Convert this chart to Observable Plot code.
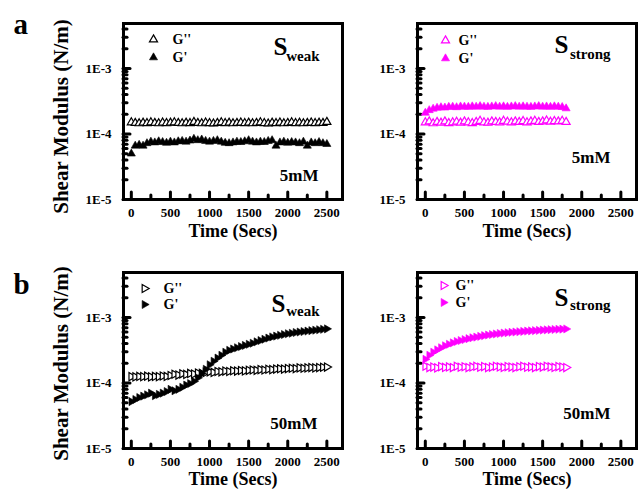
<!DOCTYPE html>
<html><head><meta charset="utf-8">
<script src="https://cdn.jsdelivr.net/npm/d3@7"></script>
<script src="https://cdn.jsdelivr.net/npm/@observablehq/plot@0.6"></script>
<style>
body{margin:0;background:#fff;overflow:hidden}
#fig{position:relative;width:639px;height:491px;overflow:hidden}
#fig>div{position:absolute}
svg{overflow:visible}
</style></head><body><div id="fig"></div>
<script>
// values of shear modulus are given in units of 1e-4 N/m
const unit = 1e-4;
const timeWeak = [0,50,100,150,200,250,300,350,400,450,500,550,600,650,700,750,800,850,900,950,1000,1050,1100,1150,1200,1250,1300,1350,1400,1450,1500,1550,1600,1650,1700,1750,1800,1850,1900,1950,2000,2050,2100,2150,2200,2250,2300,2350,2400,2450,2500];
const timeStrong = [0,50,100,150,200,250,300,350,400,450,500,550,600,650,700,750,800,850,900,950,1000,1050,1100,1150,1200,1250,1300,1350,1400,1450,1500,1550,1600,1650,1700,1750,1800];

// panel a, S_weak, 5mM
const aWeakG2 = [1.50,1.47,1.45,1.48,1.46,1.50,1.47,1.45,1.49,1.46,
  1.48,1.50,1.47,1.45,1.48,1.46,1.52,1.47,1.45,1.49,
  1.46,1.44,1.47,1.50,1.46,1.48,1.45,1.47,1.49,1.46,
  1.48,1.45,1.47,1.50,1.46,1.44,1.48,1.46,1.49,1.45,
  1.47,1.50,1.46,1.48,1.45,1.47,1.49,1.46,1.48,1.47,1.52];
const aWeakG1 = [0.50,0.66,0.68,0.66,0.72,0.76,0.74,0.77,0.75,0.73,
  0.76,0.74,0.77,0.78,0.76,0.79,0.84,0.80,0.82,0.78,
  0.76,0.78,0.80,0.76,0.73,0.72,0.74,0.76,0.75,0.77,
  0.80,0.76,0.74,0.76,0.75,0.78,0.80,0.66,0.74,0.76,
  0.73,0.75,0.74,0.72,0.76,0.66,0.74,0.72,0.75,0.72,0.70];
// panel a, S_strong, 5mM
const aStrongG2 = [1.50,1.55,1.45,1.52,1.48,1.55,1.46,1.50,1.53,1.48,
  1.55,1.50,1.46,1.52,1.58,1.50,1.48,1.55,1.52,1.50,
  1.58,1.53,1.50,1.55,1.52,1.57,1.50,1.55,1.58,1.52,
  1.55,1.60,1.53,1.57,1.55,1.58,1.52];
const aStrongG1 = [2.10,2.30,2.42,2.50,2.55,2.52,2.58,2.60,2.55,2.62,
  2.60,2.58,2.63,2.60,2.65,2.60,2.58,2.62,2.65,2.60,
  2.63,2.58,2.62,2.65,2.60,2.63,2.60,2.58,2.62,2.65,
  2.60,2.62,2.58,2.63,2.60,2.57,2.45];
// panel b, S_weak, 50mM
const bWeakG2 = [1.25,1.24,1.26,1.25,1.27,1.24,1.26,1.25,1.28,1.26,
  1.30,1.36,1.32,1.38,1.35,1.40,1.37,1.42,1.40,1.45,
  1.48,1.45,1.50,1.48,1.52,1.50,1.54,1.52,1.55,1.53,
  1.56,1.58,1.56,1.60,1.58,1.62,1.60,1.63,1.65,1.63,
  1.66,1.68,1.66,1.70,1.68,1.70,1.72,1.70,1.72,1.74,1.75];
const bWeakG1 = [0.52,0.56,0.60,0.63,0.66,0.70,0.64,0.67,0.70,0.74,
  0.80,0.76,0.80,0.86,0.93,0.98,1.06,1.20,1.40,1.62,
  1.90,2.15,2.40,2.65,2.95,3.15,3.30,3.45,3.60,3.75,
  3.90,4.05,4.25,4.45,4.65,4.85,5.05,5.20,5.35,5.50,
  5.65,5.75,5.90,6.00,6.10,6.20,6.30,6.40,6.50,6.60,6.70];
// panel b, S_strong, 50mM
const bStrongG2 = [1.80,1.72,1.75,1.70,1.78,1.73,1.76,1.72,1.80,1.74,
  1.77,1.72,1.76,1.80,1.74,1.78,1.72,1.75,1.80,1.76,
  1.73,1.78,1.75,1.72,1.77,1.80,1.74,1.76,1.72,1.78,
  1.75,1.80,1.76,1.73,1.78,1.75,1.72];
const bStrongG1 = [2.30,2.65,2.95,3.20,3.45,3.70,3.90,4.10,4.30,4.45,
  4.60,4.75,4.90,5.02,5.15,5.28,5.40,5.50,5.60,5.70,
  5.78,5.86,5.94,6.00,6.07,6.13,6.20,6.25,6.30,6.36,
  6.42,6.47,6.52,6.56,6.60,6.64,6.68];

const yTicksMajor = [1e-5, 1e-4, 1e-3];
const yTickLabels = ["1E-5", "1E-4", "1E-3"];
const yTicksMinor = [2e-5,3e-5,4e-5,5e-5,6e-5,7e-5,8e-5,9e-5,2e-4,3e-4,4e-4,5e-4,6e-4,7e-4,8e-4,9e-4,2e-3,3e-3,4e-3];
const xTicksMajor = [0, 500, 1000, 1500, 2000, 2500];
const xTicksMinor = [250, 750, 1250, 1750, 2250];
const legendLabels = ["G''", "G'"];
const yTitle = "Shear Modulus (N/m)";
const xTitle = "Time (Secs)";

const FONT = "'Liberation Serif', 'Times New Roman', serif";

function panel(cfg) {
  const rot = cfg.shape === "right" ? 90 : 0;
  const rowsG2 = cfg.time.map((t, i) => ({t, v: cfg.G2[i] * unit}));
  const rowsG1 = cfg.time.map((t, i) => ({t, v: cfg.G1[i] * unit}));
  const L = cfg.lay;
  const T = {textAnchor: "end", lineAnchor: "middle"};
  const R = 3;
  const marks = [
    Plot.axisY(yTicksMinor, {tickSize: -4, strokeWidth: 3, strokeLinecap: "round", fill: "none", label: null}),
    Plot.axisY(yTicksMajor, {tickSize: -7, strokeWidth: 3, strokeLinecap: "round", fill: "none", label: null}),
    Plot.axisY(yTicksMajor, {tickSize: 0, tickPadding: 12, fontSize: 13, tickFormat: d => yTickLabels[yTicksMajor.indexOf(d)], label: null}),
    Plot.axisX(xTicksMinor, {tickSize: -4, strokeWidth: 3, strokeLinecap: "round", fill: "none", label: null}),
    Plot.axisX(xTicksMajor, {tickSize: -7, strokeWidth: 3, strokeLinecap: "round", fill: "none", label: null}),
    Plot.axisX(xTicksMajor, {tickSize: 0, tickPadding: 8, fontSize: 13, tickFormat: d => String(d), label: null}),
    Plot.dot(rowsG2, {x: "t", y: "v", symbol: "triangle", r: R, fill: "white", stroke: cfg.color, strokeWidth: 1.2, rotate: rot}),
    Plot.dot(rowsG1, {x: "t", y: "v", symbol: "triangle", r: R, fill: cfg.color, stroke: cfg.color, strokeWidth: 0.6, rotate: rot}),
    Plot.frame({strokeWidth: 3}),
    // legend
    Plot.dot([legendLabels[0]], {frameAnchor: "top-left", dx: L.lmx, dy: L.ly1, symbol: "triangle", r: R, fill: "white", stroke: cfg.color, strokeWidth: 1.2, rotate: rot}),
    Plot.dot([legendLabels[1]], {frameAnchor: "top-left", dx: L.lmx, dy: L.ly2, symbol: "triangle", r: R, fill: cfg.color, stroke: cfg.color, strokeWidth: 0.6, rotate: rot}),
    Plot.text([legendLabels[0]], {frameAnchor: "top-left", dx: L.ltx, dy: L.ly1, textAnchor: "start", lineAnchor: "middle", fontSize: 14}),
    Plot.text([legendLabels[1]], {frameAnchor: "top-left", dx: L.ltx, dy: L.ly2, textAnchor: "start", lineAnchor: "middle", fontSize: 14}),
    // sample title S_sub
    Plot.text(["S"], {frameAnchor: "top-right", dx: L.sx, dy: L.sy, ...T, fontSize: 25}),
    Plot.text([cfg.sub], {frameAnchor: "top-right", dx: L.subx, dy: L.suby, ...T, fontSize: 15}),
    // concentration
    Plot.text([cfg.conc], {frameAnchor: "top-right", dx: L.cx, dy: L.cy, ...T, fontSize: 17}),
    // x title
    Plot.text([xTitle], {frameAnchor: "bottom", dy: L.xty, textAnchor: "middle", lineAnchor: "middle", fontSize: 18})
  ];
  if (cfg.letter) {
    marks.push(Plot.text([yTitle], {frameAnchor: "left", dx: -62, dy: L.yty, rotate: -90, textAnchor: "middle", lineAnchor: "middle", fontSize: 21}));
    marks.push(Plot.text([cfg.letter], {frameAnchor: "top-left", dx: -110, dy: L.lety, textAnchor: "start", lineAnchor: "middle", fontSize: 29}));
  }
  const svg = Plot.plot({
    width: 345, height: 245,
    marginLeft: 123, marginRight: 3, marginTop: 23, marginBottom: 46,
    style: {fontFamily: FONT, fontWeight: "bold", background: "transparent", overflow: "visible", color: "black"},
    x: {domain: [-100, 2700]},
    y: {type: "log", domain: [1e-5, 4.86e-3]},
    marks
  });
  const div = document.createElement("div");
  div.style.left = cfg.left + "px";
  div.style.top = cfg.top + "px";
  div.appendChild(svg);
  document.getElementById("fig").appendChild(div);
}

panel({G2: aWeakG2, G1: aWeakG1, time: timeWeak, color: "black", shape: "up", letter: "a", sub: "weak", conc: "5mM", left: 0, top: 0,
  lay: {lmx: 30, ltx: 49, ly1: 16, ly2: 34, sx: -55, sy: 23, subx: -23, suby: 33, cx: -24, cy: 152, xty: 32, yty: 5, lety: 1}});
panel({G2: aStrongG2, G1: aStrongG1, time: timeStrong, color: "#ff00ff", shape: "up", letter: null, sub: "strong", conc: "5mM", left: 294, top: 0,
  lay: {lmx: 28, ltx: 41, ly1: 17, ly2: 35, sx: -68, sy: 21, subx: -26, suby: 31, cx: -26, cy: 134, xty: 32}});
panel({G2: bWeakG2, G1: bWeakG1, time: timeWeak, color: "black", shape: "right", letter: "b", sub: "weak", conc: "50mM", left: 0, top: 249,
  lay: {lmx: 21, ltx: 40, ly1: 16, ly2: 32, sx: -57, sy: 31, subx: -23, suby: 39, cx: -25, cy: 151, xty: 31, yty: 3, lety: 12}});
panel({G2: bStrongG2, G1: bStrongG1, time: timeStrong, color: "#ff00ff", shape: "right", letter: null, sub: "strong", conc: "50mM", left: 294, top: 249,
  lay: {lmx: 26, ltx: 38, ly1: 13, ly2: 30, sx: -68, sy: 25, subx: -26, suby: 33, cx: -26, cy: 141, xty: 31}});
</script></body></html>
